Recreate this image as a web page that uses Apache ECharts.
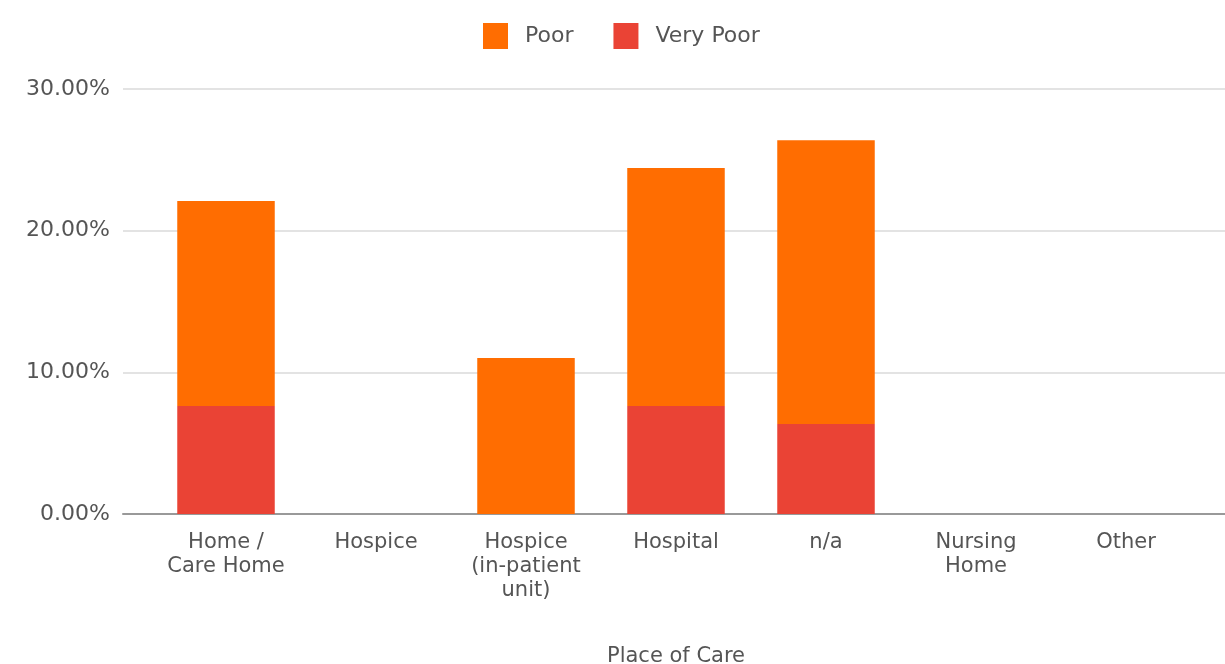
<!DOCTYPE html>
<html>
<head>
<meta charset="utf-8">
<script src="https://cdn.jsdelivr.net/npm/echarts@6/dist/echarts.min.js"></script>
<style>
  html, body { margin: 0; padding: 0; background: #fff; }
  #chart { width: 1225px; height: 664px; }
</style>
</head>
<body>
<div id="chart"></div>
<script>
// Place of care categories (x axis)
const categories = ['Home /\nCare Home', 'Hospice', 'Hospice\n(in-patient\nunit)', 'Hospital', 'n/a', 'Nursing\nHome', 'Other'];
// Share of responses, in percent
const veryPoor = [7.62, 0, 0, 7.62, 6.35, 0, 0];
const poor = [14.47, 0, 11.01, 16.80, 20.04, 0, 0];
// Y axis range and step
const yMin = 0;
const yMax = 30;
const yStep = 10;

const FONT = 'DejaVu Sans';
const TEXT = '#555';

const chart = echarts.init(document.getElementById('chart'), null, { renderer: 'canvas' });

chart.setOption({
  animation: false,
  textStyle: { fontFamily: FONT },
  legend: {
    data: ['Poor', 'Very Poor'],
    left: 478,
    top: 18,
    itemWidth: 25,
    itemHeight: 26,
    itemGap: 40,
    icon: 'rect',
    textStyle: { fontFamily: FONT, fontSize: 22, color: TEXT, padding: [0, 0, 0, 12] }
  },
  grid: [
    // full-width frame: gridlines, y labels, baseline
    { left: 123, right: 0, top: 89, bottom: 150, containLabel: false, outerBoundsMode: 'none' },
    // category area holding the bars
    { left: 151, right: 24, top: 89, bottom: 150, containLabel: false, outerBoundsMode: 'none' }
  ],
  xAxis: [
    {
      gridIndex: 0,
      type: 'value',
      min: 0,
      max: 1,
      axisLine: { show: true, onZero: false, lineStyle: { color: '#999', width: 2 } },
      axisTick: { show: false },
      axisLabel: { show: false },
      splitLine: { show: false }
    },
    {
      gridIndex: 1,
      type: 'category',
      data: categories,
      axisLine: { show: false },
      axisTick: { show: false },
      axisLabel: {
        interval: 0,
        margin: 17,
        fontFamily: FONT,
        fontSize: 21,
        lineHeight: 24,
        color: TEXT
      },
      name: 'Place of Care',
      nameLocation: 'middle',
      nameGap: 132,
      nameTextStyle: { fontFamily: FONT, fontSize: 21, color: TEXT }
    }
  ],
  yAxis: [
    {
      gridIndex: 0,
      type: 'value',
      min: yMin,
      max: yMax,
      interval: yStep,
      axisLine: { show: false },
      axisTick: { show: false },
      axisLabel: {
        margin: 13,
        fontFamily: FONT,
        fontSize: 22,
        color: TEXT,
        formatter: v => v.toFixed(2) + '%'
      },
      splitLine: { lineStyle: { color: '#e3e3e3', width: 2 } }
    },
    {
      gridIndex: 1,
      type: 'value',
      min: yMin,
      max: yMax,
      interval: yStep,
      show: false,
      splitLine: { show: false }
    }
  ],
  series: [
    {
      name: 'Very Poor',
      type: 'bar',
      stack: 'rating',
      xAxisIndex: 1,
      yAxisIndex: 1,
      barWidth: '65%',
      itemStyle: { color: '#EA4335' },
      data: veryPoor
    },
    {
      name: 'Poor',
      type: 'bar',
      stack: 'rating',
      xAxisIndex: 1,
      yAxisIndex: 1,
      barWidth: '65%',
      itemStyle: { color: '#FF6D01' },
      data: poor
    }
  ]
});
</script>
</body>
</html>
